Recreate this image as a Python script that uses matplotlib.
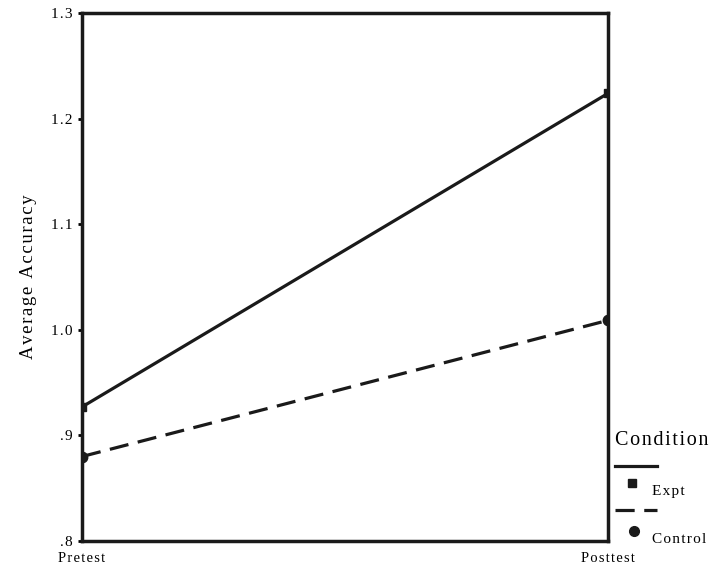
import matplotlib
matplotlib.use('Agg')
from matplotlib import pyplot as plt
from matplotlib.lines import Line2D

# data
phases = ['Pretest', 'Posttest']
expt = [0.927, 1.224]
control = [0.880, 1.009]
y_ticks = [0.8, 0.9, 1.0, 1.1, 1.2, 1.3]
y_tick_labels = ['.8', '.9', '1.0', '1.1', '1.2', '1.3']

plt.rcParams['font.family'] = ['Liberation Serif', 'DejaVu Serif']


def spaced(s):
    # old SPSS output has wide letter spacing, fake it with hair spaces
    return '\u200a'.join(s)


fig = plt.figure(figsize=(7.12, 5.69), dpi=100)
ax = fig.add_axes([0.1152, 0.0492, 0.7388, 0.9278])

x = range(len(phases))
ax.plot(x, expt, color='#1a1a1a', lw=2.3, marker='s', ms=6)
ax.plot(x, control, color='#1a1a1a', lw=2.3, ls=(0, (6, 3)), marker='o', ms=7.5)

ax.set_xlim(0, 1)
ax.set_ylim(0.8, 1.3)
ax.set_xticks(list(x))
ax.set_xticklabels([spaced(p) for p in phases], fontsize=10.5)
ax.set_yticks(y_ticks)
ax.set_yticklabels([spaced(t) for t in y_tick_labels], fontsize=11)
ax.tick_params(axis='y', length=3, width=2, direction='out', pad=4)
ax.tick_params(axis='x', length=0, pad=8)
for s in ax.spines.values():
    s.set_linewidth(2.5)
    s.set_color('#1a1a1a')
ax.set_ylabel(spaced('Average Accuracy'), fontsize=13.5, labelpad=10)

# legend drawn off to the right
fig.text(0.864, 0.225, spaced('Condition'), fontsize=14.5, va='center', ha='left')
fig.add_artist(Line2D([0.864, 0.923], [0.181, 0.181], color='#1a1a1a', lw=2.3))
fig.add_artist(Line2D([0.888], [0.151], color='#1a1a1a', marker='s', ms=5.5))
fig.text(0.916, 0.137, spaced('Expt'), fontsize=11, va='center', ha='left')
fig.add_artist(Line2D([0.864, 0.923], [0.104, 0.104], color='#1a1a1a', lw=2.3, ls=(0, (6, 3))))
fig.add_artist(Line2D([0.891], [0.067], color='#1a1a1a', marker='o', ms=7))
fig.text(0.916, 0.051, spaced('Control'), fontsize=11, va='center', ha='left')

fig.savefig('out.png', dpi=100)
